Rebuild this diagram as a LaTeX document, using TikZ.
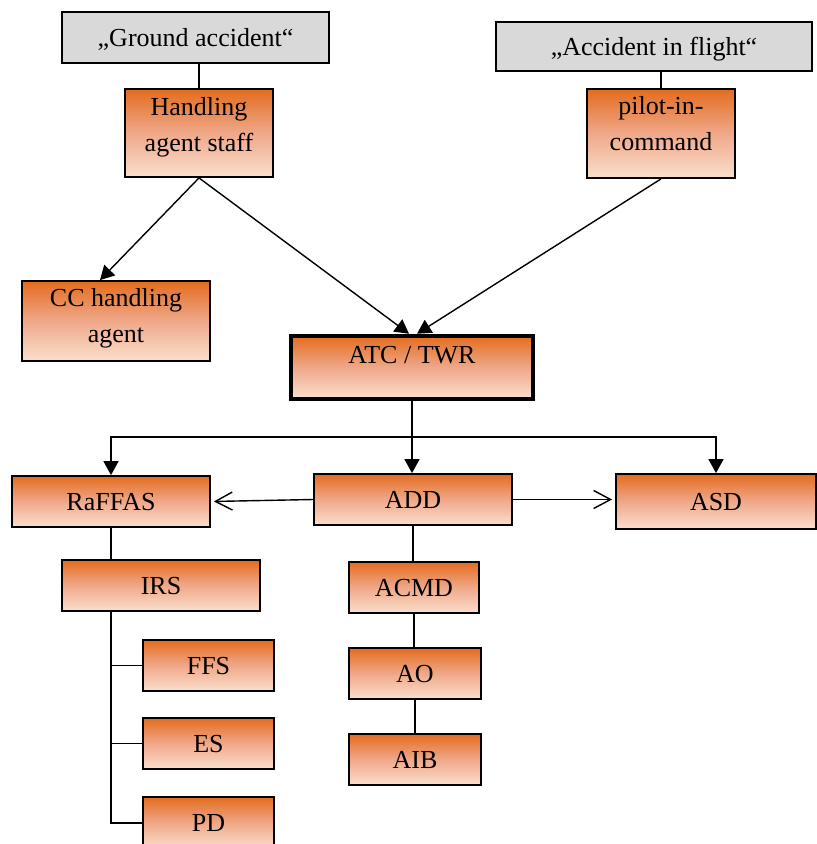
\documentclass[tikz,border=0pt]{standalone}
\usepackage{fontspec}
\setmainfont{Liberation Serif}
\usetikzlibrary{arrows.meta}
\definecolor{otop}{HTML}{E36C1F}
\definecolor{omid}{HTML}{EFA889}
\definecolor{obot}{HTML}{FADFCD}
\definecolor{gfill}{HTML}{D9D9D9}
\begin{document}
\begin{tikzpicture}[x=1pt,y=-1pt,
  every node/.style={font=\fontsize{26}{36}\selectfont, inner sep=0pt},
  obox/.style={draw=black, line width=1.8pt, top color=otop, bottom color=obot, middle color=omid, text height=17pt, text depth=0pt},
  gbox/.style={draw=black, line width=1.8pt, fill=gfill, text height=17pt, text depth=0pt},
  conn/.style={line width=1.4pt},
  arr/.style={conn, -{Triangle[length=14pt,width=15pt]}},
  oarr/.style={conn, -{Straight Barb[length=17pt,width=18pt]}}]
\useasboundingbox (0,0) rectangle (817,844);

% top boxes
\node[gbox, minimum width=267pt, minimum height=51pt] (ga) at (195.5,37.5) {„Ground accident“};
\node[gbox, minimum width=316pt, minimum height=49pt] (af) at (654,46.5) {„Accident in flight“};

\node[obox, minimum width=148pt, minimum height=88pt] (has) at (199,133) {};
\node[align=center] (hast) at (199,127.4) {Handling\\agent staff};
\node[obox, minimum width=148pt, minimum height=89pt] (pic) at (661,133.5) {};
\node[align=center] (pict) at (661,124.1) {pilot-in-\\command};
\node[obox, minimum width=188pt, minimum height=80pt] (cc) at (116,321) {};
\node[align=center] (cct) at (116,318.4) {CC handling\\agent};

\node[obox, line width=4.5pt, minimum width=242pt, minimum height=63pt, text depth=26pt] (atc) at (412,367.5) {ATC / TWR};

% second level
\node[obox, minimum width=198pt, minimum height=51pt] (raf) at (111,501.5) {RaFFAS};
\node[obox, minimum width=198pt, minimum height=51pt] (add) at (413,499.5) {ADD};
\node[obox, minimum width=200pt, minimum height=55pt] (asd) at (716,501.5) {ASD};

\node[obox, minimum width=198pt, minimum height=51pt] (irs) at (161,585.5) {IRS};
\node[obox, minimum width=131pt, minimum height=51pt] (ffs) at (208.5,665.5) {FFS};
\node[obox, minimum width=131pt, minimum height=51pt] (es) at (208.5,743.5) {ES};
\node[obox, minimum width=131pt, minimum height=52pt] (pd) at (208.5,823) {PD};

\node[obox, minimum width=130pt, minimum height=51pt] (acmd) at (414,587.5) {ACMD};
\node[obox, minimum width=132pt, minimum height=51pt] (ao) at (415,673.5) {AO};
\node[obox, minimum width=132pt, minimum height=51pt] (aib) at (415,759.5) {AIB};

% connectors
\draw[conn] (has.north) -- (has.north |- ga.south);
\draw[conn] (pic.north) -- (pic.north |- af.south);
\draw[arr] (has.south) -- ([xshift=-16pt]cc.north);
\draw[arr] (has.south) -- ([xshift=-3pt]atc.north);
\draw[arr] (pic.south) -- ([xshift=5pt]atc.north);

\coordinate (jy) at (0,437);
\coordinate (j) at (atc.south |- jy);
\draw[arr] (atc.south) -- (atc.south |- add.north);
\draw[arr] (j) -| (raf.north);
\draw[arr] (j) -| (asd.north);

\draw[oarr, shorten >=3pt] (add.west) -- (raf.east);
\draw[oarr, shorten >=3pt] (add.east) -- (add.east -| asd.west);

\draw[conn] (raf.south) -- (raf.south |- irs.north);
\draw[conn] (raf.south |- irs.south) |- (pd.west);
\draw[conn] (ffs.west) -- (ffs.west -| raf.south);
\draw[conn] (es.west) -- (es.west -| raf.south);

\draw[conn] (add.south) -- (add.south |- acmd.north);
\draw[conn] (acmd.south) -- (acmd.south |- ao.north);
\draw[conn] (ao.south) -- (ao.south |- aib.north);
\end{tikzpicture}
\end{document}
